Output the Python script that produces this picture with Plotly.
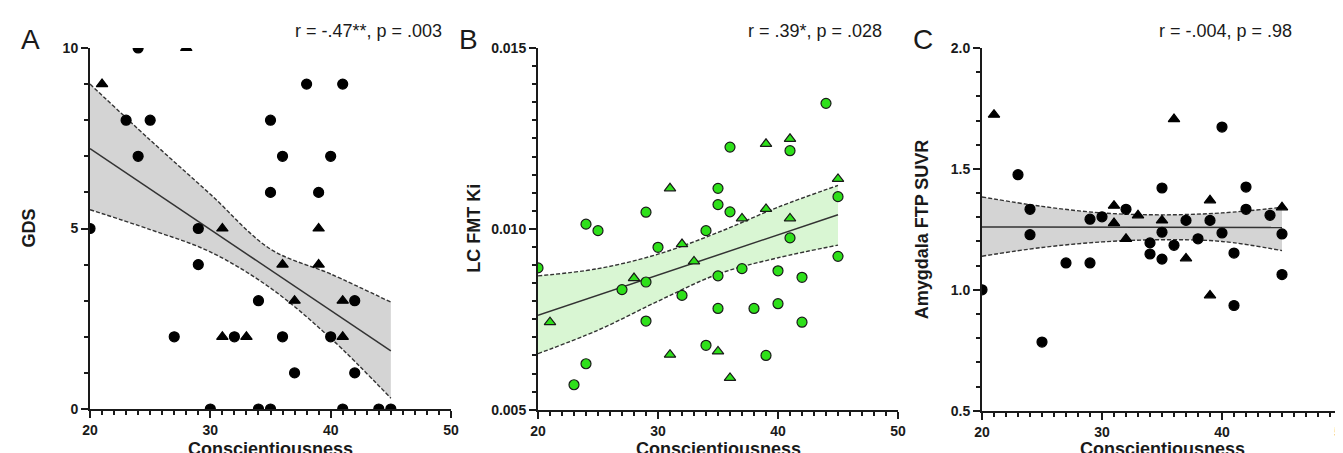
import plotly.graph_objects as go

# ---------------- data ----------------
# Panel A : GDS vs Conscientiousness
a_circ_x = [24, 38, 41, 23, 25, 35, 24, 36, 40, 35, 39, 20, 29, 29, 34, 42, 27, 32, 36, 40, 37, 42, 30, 34, 35, 41, 44, 45]
a_circ_y = [10, 9, 9, 8, 8, 8, 7, 7, 7, 6, 6, 5, 5, 4, 3, 3, 2, 2, 2, 2, 1, 1, 0, 0, 0, 0, 0, 0]
a_tri_x = [28, 21, 31, 39, 36, 39, 37, 41, 31, 33, 41]
a_tri_y = [10, 9, 5, 5, 4, 4, 3, 3, 2, 2, 2]

# Panel B : LC FMT Ki vs Conscientiousness
b_circ_x = [44, 36, 41, 45, 35, 35, 36, 29, 24, 25, 34, 41, 30, 20, 45, 37, 40, 29, 35, 42,
            27, 32, 35, 38, 40, 29, 42, 34, 39, 24, 23]
b_circ_y = [0.01347, 0.01226, 0.01216, 0.01089, 0.01112, 0.01067, 0.01047, 0.01046, 0.01013, 0.00995,
            0.00995, 0.00975, 0.00949, 0.00892, 0.00924, 0.00890, 0.00884, 0.00853, 0.00870, 0.00866,
            0.00832, 0.00816, 0.00780, 0.00780, 0.00793, 0.00745, 0.00742, 0.00678, 0.00650, 0.00627, 0.00569]
b_tri_x = [39, 41, 45, 31, 37, 39, 41, 32, 33, 28, 21, 31, 35, 36]
b_tri_y = [0.01235, 0.01249, 0.01138, 0.01112, 0.01029, 0.01055, 0.01029, 0.00958, 0.00910, 0.00864,
           0.00742, 0.00652, 0.00661, 0.00588]

# Panel C : Amygdala FTP SUVR vs Conscientiousness
c_circ_x = [40, 23, 35, 42, 24, 32, 42, 29, 30, 37, 39, 44, 24, 35, 34, 36, 38, 40, 45, 34, 35, 41, 27, 29, 45, 20, 41, 25]
c_circ_y = [1.673, 1.476, 1.421, 1.425, 1.333, 1.333, 1.333, 1.292, 1.302, 1.287, 1.287, 1.308, 1.228, 1.238,
            1.194, 1.184, 1.211, 1.235, 1.231, 1.148, 1.127, 1.152, 1.111, 1.111, 1.063, 1.000, 0.935, 0.784]
c_tri_x = [21, 36, 39, 31, 33, 45, 35, 31, 32, 37, 39]
c_tri_y = [1.724, 1.706, 1.370, 1.348, 1.308, 1.341, 1.287, 1.276, 1.211, 1.130, 0.977]

# regression lines and 95% confidence bands
fit_x = [20, 45]
a_fit = [7.21, 1.61]
b_fit = [0.00761, 0.01039]
c_fit = [1.260, 1.258]

band_x = [20, 25, 30, 35, 40, 45]
a_upper = [9.00, 7.45, 5.95, 4.43, 3.74, 2.96]
a_lower = [5.52, 4.97, 4.35, 3.35, 1.96, 0.30]
b_upper = [0.00870, 0.00890, 0.00930, 0.00990, 0.01060, 0.01120]
b_lower = [0.00655, 0.00720, 0.00800, 0.00875, 0.00920, 0.00955]
c_upper = [1.384, 1.345, 1.318, 1.310, 1.318, 1.341]
c_lower = [1.139, 1.175, 1.198, 1.207, 1.200, 1.162]

panel_letters = ["A", "B", "C"]
stats_text = ["r = -.47**, p = .003", "r = .39*, p = .028", "r = -.004, p = .98"]
y_titles = ["GDS", "LC FMT Ki", "Amygdala FTP SUVR"]
x_title = "Conscientiousness"
x_range = [20, 50]
x_ticks = [20, 30, 40, 50]
a_ticks = [0, 5, 10]
b_ticks = [0.005, 0.010, 0.015]
c_ticks = [0.5, 1.0, 1.5, 2.0]

# ---------------- figure ----------------
W, H = 1343, 453
FONT = "Liberation Sans, Arial, sans-serif"
INK = "#1a1a1a"


def px_x(px):
    return px / W


def px_y(py):
    return 1 - py / H


panels = [
    dict(cx=a_circ_x, cy=a_circ_y, tx=a_tri_x, ty=a_tri_y, fit=a_fit, up=a_upper, lo=a_lower,
         fill="#d4d4d4", mfill="black", mline="black"),
    dict(cx=b_circ_x, cy=b_circ_y, tx=b_tri_x, ty=b_tri_y, fit=b_fit, up=b_upper, lo=b_lower,
         fill="#d9f6d3", mfill="#2ee01a", mline="#1a1a1a"),
    dict(cx=c_circ_x, cy=c_circ_y, tx=c_tri_x, ty=c_tri_y, fit=c_fit, up=c_upper, lo=c_lower,
         fill="#d4d4d4", mfill="black", mline="black"),
]

fig = go.Figure()

for i, p in enumerate(panels):
    xa = "x" if i == 0 else f"x{i+1}"
    ya = "y" if i == 0 else f"y{i+1}"
    fig.add_trace(go.Scatter(x=band_x, y=p["up"], mode="lines", line=dict(width=0, shape="spline"),
                             hoverinfo="skip", showlegend=False, xaxis=xa, yaxis=ya))
    fig.add_trace(go.Scatter(x=band_x, y=p["lo"], mode="lines", line=dict(width=0, shape="spline"),
                             fill="tonexty", fillcolor=p["fill"],
                             hoverinfo="skip", showlegend=False, xaxis=xa, yaxis=ya))
    for arr in (p["up"], p["lo"]):
        fig.add_trace(go.Scatter(x=band_x, y=arr, mode="lines",
                                 line=dict(color="#333333", width=1.4, dash="4px,2px", shape="spline"),
                                 hoverinfo="skip", showlegend=False, xaxis=xa, yaxis=ya))
    fig.add_trace(go.Scatter(x=fit_x, y=p["fit"], mode="lines",
                             line=dict(color="#333333", width=1.5),
                             showlegend=False, xaxis=xa, yaxis=ya))
    fig.add_trace(go.Scatter(x=p["cx"], y=p["cy"], mode="markers",
                             marker=dict(symbol="circle", size=10, color=p["mfill"],
                                         line=dict(color=p["mline"], width=1.2)),
                             showlegend=False, xaxis=xa, yaxis=ya))
    fig.add_trace(go.Scatter(x=p["tx"], y=p["ty"], mode="markers",
                             marker=dict(symbol="triangle-up", size=10, color=p["mfill"],
                                         line=dict(color=p["mline"], width=1.2)),
                             showlegend=False, xaxis=xa, yaxis=ya))

# plot areas in pixels
x_px = [(82, 443), (530, 890), (974, 1334)]
y_px = [(40, 401), (40, 401.7), (40, 402.7)]
y_ranges = [[0, 10], [0.005, 0.015], [0.5, 2.0]]
y_tickvals = [a_ticks, b_ticks, c_ticks]
y_fmt = ["d", ".3f", ".1f"]
y_minor = [1, 0.0005, 0.1]

tickfont = dict(family=FONT, size=14, color=INK, weight="bold")

layout = dict(width=W, height=H, margin=dict(l=0, r=0, t=0, b=0, autoexpand=False),
              plot_bgcolor="white", paper_bgcolor="white", showlegend=False)

for i in range(3):
    sx = "" if i == 0 else str(i + 1)
    x0, x1 = x_px[i]
    y0, y1 = y_px[i]
    ymin = y_ranges[i][0]
    layout["xaxis" + sx] = dict(showline=True, linecolor=INK, linewidth=2, ticks="outside", ticklen=7,
                                tickwidth=2, tickcolor=INK, showgrid=False, zeroline=False,
                                tickfont=tickfont,
                                domain=[px_x(x0), px_x(x1)], range=x_range, anchor="y" + sx,
                                tickvals=x_ticks,
                                minor=dict(dtick=1, ticklen=4, tickwidth=1.5, tickcolor=INK,
                                           ticks="outside", tick0=20))
    layout["yaxis" + sx] = dict(showline=True, linecolor=INK, linewidth=2, ticks="outside", ticklen=7,
                                tickwidth=2, tickcolor=INK, showgrid=False, zeroline=False,
                                tickfont=tickfont,
                                domain=[px_y(y1), px_y(y0)], range=y_ranges[i], anchor="x" + sx,
                                tickvals=y_tickvals[i], tickformat=y_fmt[i],
                                minor=dict(dtick=y_minor[i], ticklen=4, tickwidth=1.5, tickcolor=INK,
                                           ticks="outside", tick0=ymin))

fig.update_layout(**layout)

annotations = []
letter_x = [22, 460, 915]
stats_right = [436, 876, 1286]
ytitle_x = [21, 466, 914]
for i in range(3):
    x0, x1 = x_px[i]
    y0, y1 = y_px[i]
    annotations.append(dict(text=panel_letters[i], x=px_x(letter_x[i]), y=px_y(31), xref="paper", yref="paper",
                            xanchor="center", yanchor="middle", showarrow=False,
                            font=dict(family=FONT, size=28, color=INK)))
    annotations.append(dict(text=stats_text[i], x=px_x(stats_right[i]), y=px_y(23), xref="paper", yref="paper",
                            xanchor="right", yanchor="middle", showarrow=False,
                            font=dict(family=FONT, size=18, color=INK)))
    annotations.append(dict(text=y_titles[i], x=px_x(ytitle_x[i]), y=px_y((y0 + y1) / 2),
                            xref="paper", yref="paper", xanchor="center", yanchor="middle",
                            textangle=-90, showarrow=False,
                            font=dict(family=FONT, size=18, color=INK, weight="bold")))
    annotations.append(dict(text=x_title, x=px_x((x0 + x1) / 2), y=px_y(441),
                            xref="paper", yref="paper", xanchor="center", yanchor="middle",
                            showarrow=False,
                            font=dict(family=FONT, size=18, color=INK, weight="bold")))

fig.update_layout(annotations=annotations)
fig.write_html("out.html")
